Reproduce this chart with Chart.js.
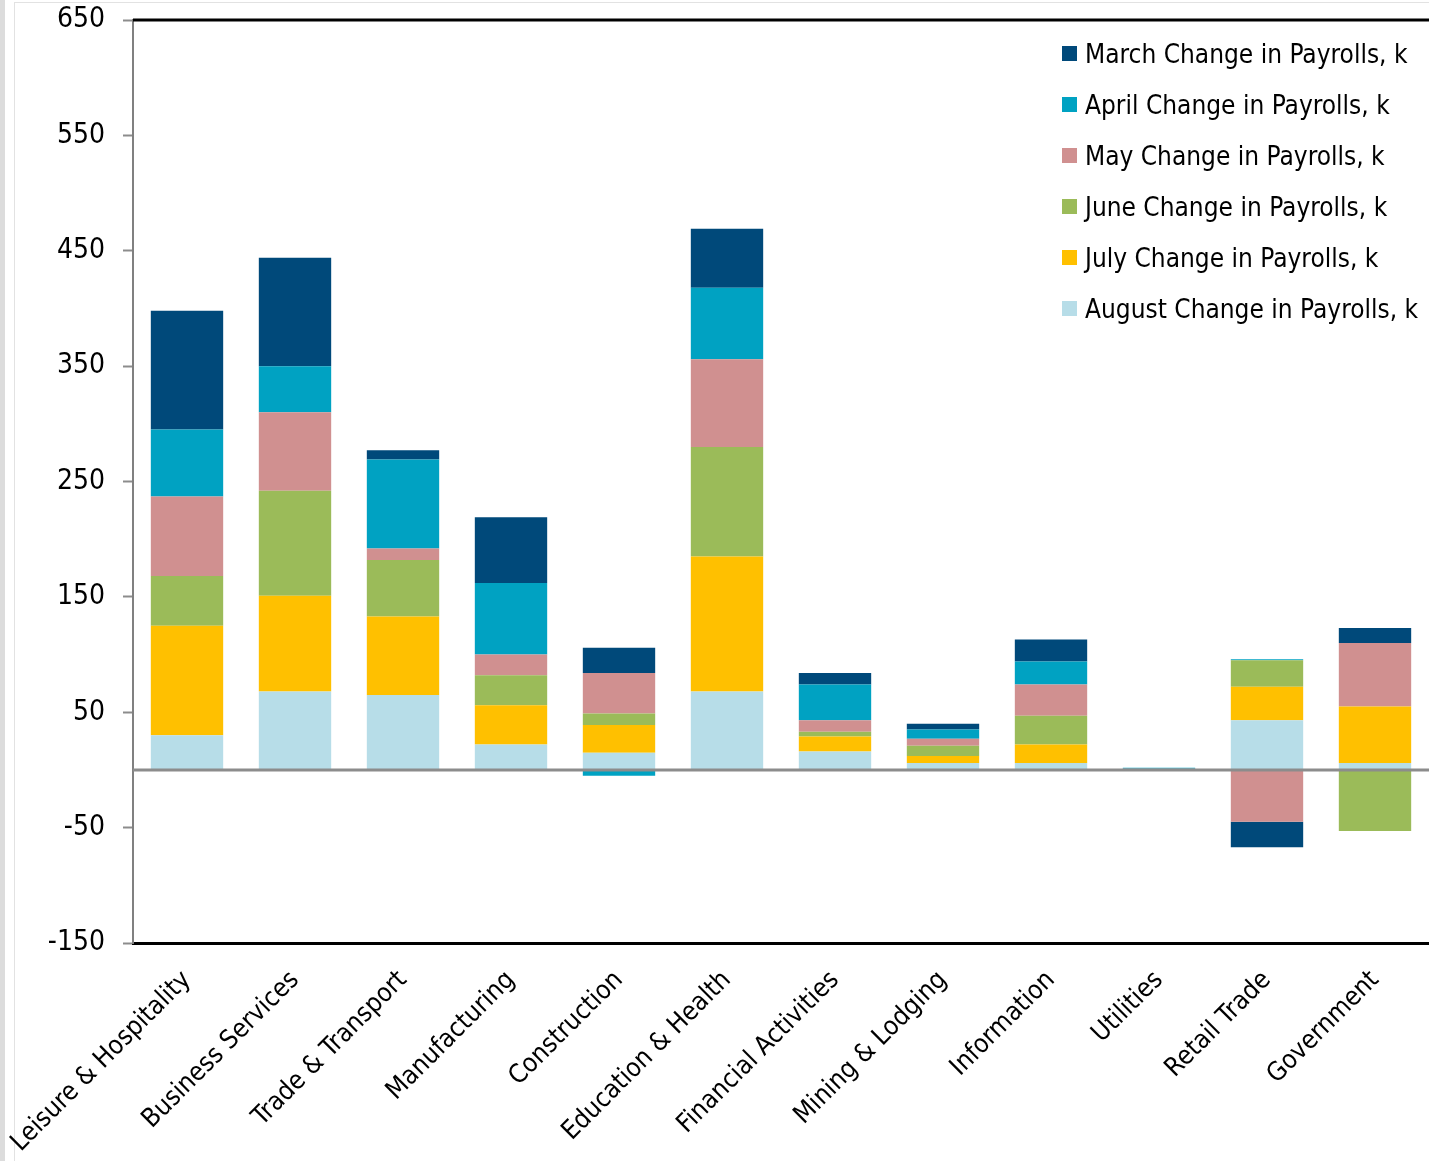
<!DOCTYPE html>
<html>
<head>
<meta charset="utf-8">
<title>Change in Payrolls by Sector</title>
<script src="https://cdn.jsdelivr.net/npm/chart.js@4.4.1/dist/chart.umd.min.js"></script>
<style>
  html, body { margin: 0; padding: 0; background: #fff; }
  body { width: 1429px; height: 1161px; position: relative; overflow: hidden; }
  .edge-strip { position: absolute; left: 0; top: 0; width: 5px; height: 1161px; background: #dcdcdc; }
  .edge-frame { position: absolute; left: 14px; top: 2px; right: 0; bottom: 0; border-left: 1px solid #e2e2e2; border-top: 1px solid #e2e2e2; }
  .chart-wrap { position: absolute; left: 0; top: 0; width: 1429px; height: 1161px; }
  #legend { position: absolute; left: 1062px; top: 28px; margin: 0; padding: 0; list-style: none;
            font-family: 'DejaVu Sans Condensed', 'Liberation Sans Narrow', sans-serif; font-size: 26px; color: #000; }
  #legend li { height: 51px; display: flex; align-items: center; white-space: nowrap; }
  #legend .box { width: 15px; height: 15px; margin-right: 8px; flex: none; }
</style>
</head>
<body>
<div class="edge-strip"></div>
<div class="edge-frame"></div>
<div class="chart-wrap"><canvas id="payrollChart" width="1429" height="1161"></canvas></div>
<ul id="legend"></ul>
<script>
// Sectors
const categories = ['Leisure & Hospitality', 'Business Services', 'Trade & Transport', 'Manufacturing',
    'Construction', 'Education & Health', 'Financial Activities', 'Mining & Lodging',
    'Information', 'Utilities', 'Retail Trade', 'Government'];

// Monthly change in payrolls, thousands
const march  = [103, 94,  8, 57, 22,  51, 10, 5, 19, 0, -22, 13];
const april  = [ 58, 40, 77, 62, -5,  62, 31, 8, 20, 1,   1,  0];
const may    = [ 69, 68, 10, 18, 35,  76, 10, 6, 27, 1, -45, 55];
const june   = [ 43, 91, 49, 26, 10,  95,  4, 9, 25, 0,  23, -53];
const july   = [ 95, 83, 68, 34, 24, 117, 13, 6, 16, 0,  29, 49];
const august = [ 30, 68, 65, 22, 15,  68, 16, 6,  6, 0,  43,  6];

const yTicks = [-150, -50, 50, 150, 250, 350, 450, 550, 650];

const FONT = "'DejaVu Sans Condensed', 'Liberation Sans Narrow', sans-serif";

// bottom of the stack first
const seriesDefs = [
    { label: 'August Change in Payrolls, k', data: august, color: '#B7DDE8' },
    { label: 'July Change in Payrolls, k',   data: july,   color: '#FFC000' },
    { label: 'June Change in Payrolls, k',   data: june,   color: '#9BBB59' },
    { label: 'May Change in Payrolls, k',    data: may,    color: '#D09090' },
    { label: 'April Change in Payrolls, k',  data: april,  color: '#00A2C2' },
    { label: 'March Change in Payrolls, k',  data: march,  color: '#00497A' }
];

// zero line + top frame line
const framePlugin = {
    id: 'frame',
    afterDatasetsDraw(chart) {
        const { ctx, chartArea } = chart;
        const y0 = chart.scales.y.getPixelForValue(0);
        ctx.save();
        ctx.strokeStyle = '#8c8c8c';
        ctx.lineWidth = 3;
        ctx.beginPath();
        ctx.moveTo(chartArea.left, y0);
        ctx.lineTo(chartArea.right, y0);
        ctx.stroke();
        ctx.strokeStyle = '#000';
        ctx.lineWidth = 3;
        ctx.beginPath();
        ctx.moveTo(chartArea.left, chartArea.top);
        ctx.lineTo(chartArea.right, chartArea.top);
        ctx.stroke();
        ctx.restore();
    }
};

const initChart = () => {
    const canvas = document.getElementById('payrollChart');
    new Chart(canvas, {
        type: 'bar',
        data: {
            labels: categories,
            datasets: seriesDefs.map(s => ({
                label: s.label,
                data: s.data,
                backgroundColor: s.color,
                borderWidth: 0,
                barPercentage: 1,
                categoryPercentage: 0.67
            }))
        },
        options: {
            responsive: false,
            animation: false,
            layout: { padding: { top: 20, right: 0, left: 0, bottom: 0 } },
            plugins: { legend: { display: false }, tooltip: { enabled: false } },
            scales: {
                x: {
                    stacked: true,
                    grid: { display: false, drawTicks: false },
                    border: { color: '#000', width: 3 },
                    ticks: {
                        color: '#000',
                        font: { family: FONT, size: 26 },
                        minRotation: 45,
                        maxRotation: 45,
                        padding: 22,
                        autoSkip: false
                    },
                    afterFit: (scale) => {
                        scale.height = 218;
                        scale.paddingLeft = 0;
                        scale.paddingRight = 0;
                    }
                },
                y: {
                    stacked: true,
                    min: -150,
                    max: 650,
                    afterBuildTicks: (scale) => {
                        scale.ticks = yTicks.map(v => ({ value: v }));
                    },
                    grid: { drawOnChartArea: false, drawTicks: true, tickLength: 10, tickColor: '#8c8c8c', tickWidth: 2 },
                    border: { color: '#808080', width: 2 },
                    ticks: {
                        color: '#000',
                        font: { family: FONT, size: 28 },
                        padding: 18
                    },
                    afterFit: (scale) => {
                        scale.width = 133;
                        scale.paddingTop = 0;
                        scale.paddingBottom = 0;
                    }
                }
            }
        },
        plugins: [framePlugin]
    });
};

// Legend, March on top
const initLegend = () => {
    const list = document.getElementById('legend');
    seriesDefs.slice().reverse().forEach(s => {
        const li = document.createElement('li');
        const box = document.createElement('span');
        box.className = 'box';
        box.style.background = s.color;
        li.appendChild(box);
        li.appendChild(document.createTextNode(s.label));
        list.appendChild(li);
    });
};

initChart();
initLegend();
</script>
</body>
</html>
